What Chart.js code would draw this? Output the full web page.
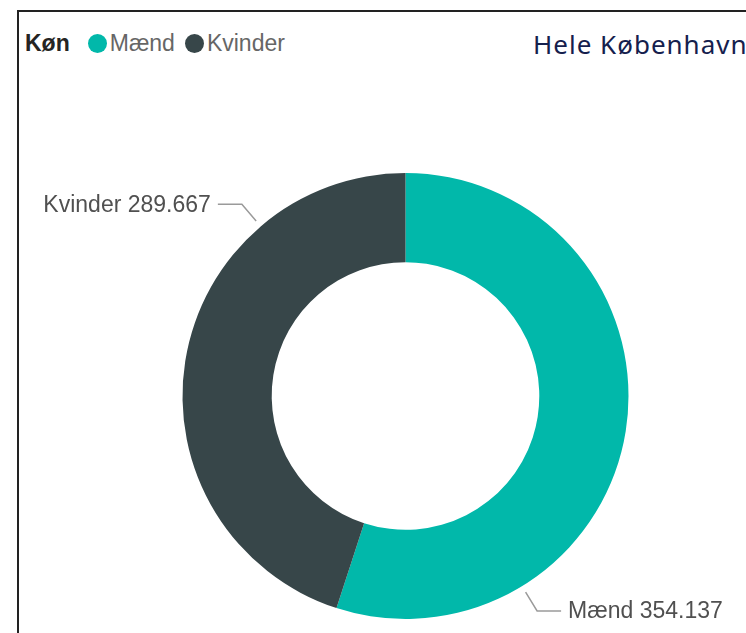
<!DOCTYPE html>
<html>
<head>
<meta charset="utf-8">
<script src="https://cdn.jsdelivr.net/npm/chart.js@4"></script>
<style>
  body { margin: 0; width: 746px; height: 633px; overflow: hidden; background: #fff; position: relative; }
  #frame { position: absolute; left: 17px; top: 10px; width: 800px; height: 700px; border-left: 2px solid #222; border-top: 2px solid #222; }
  #chart { position: absolute; left: 0; top: 0; }
  #legend { position: absolute; left: 25px; top: 30px; height: 26px; display: flex; align-items: center; font-family: 'Liberation Sans', Arial, sans-serif; font-size: 23px; color: #666; white-space: nowrap; }
  #legend .ttl { font-weight: bold; color: #252423; margin-right: 18px; }
  #legend .dot { width: 19px; height: 19px; border-radius: 50%; display: inline-block; margin-right: 3px; }
  #legend .item { display: flex; align-items: center; margin-right: 10px; }
  #title { position: absolute; left: 533px; top: 26px; font-family: 'Noto Sans', sans-serif; font-size: 26px; letter-spacing: 1px; color: #15204d; white-space: nowrap; }
</style>
</head>
<body>
<div id="frame"></div>
<div id="legend"></div>
<div id="title"></div>
<canvas id="chart" width="746" height="633"></canvas>
<script>
'use strict'

const categories = ['Mænd', 'Kvinder'];
const values = [354137, 289667];
const colors = ['#01B8AA', '#374649'];
const legendTitle = 'Køn';
const chartTitle = 'Hele København';

function formatNumber(n){
    return String(n).replace(/\B(?=(\d{3})+(?!\d))/g, '.');
}

function buildLegend(){
    const legend = document.getElementById('legend');
    let ttl = document.createElement('span');
    ttl.className = 'ttl';
    ttl.textContent = legendTitle;
    legend.appendChild(ttl);
    for (let i = 0; i < categories.length; i++){
        let item = document.createElement('span');
        item.className = 'item';
        let dot = document.createElement('span');
        dot.className = 'dot';
        dot.style.background = colors[i];
        item.appendChild(dot);
        item.appendChild(document.createTextNode(categories[i]));
        legend.appendChild(item);
    }
}

// leader lines + data labels, placed from each arc's own geometry
const leaderLabels = {
    id: 'leaderLabels',
    afterDatasetsDraw(chart){
        const ctx = chart.ctx;
        const arcs = chart.getDatasetMeta(0).data;
        ctx.save();
        ctx.font = '23px "Liberation Sans", Arial, sans-serif';
        ctx.textBaseline = 'middle';
        for (let i = 0; i < arcs.length; i++){
            const arc = arcs[i];
            const a = arc.startAngle + 0.75 * (arc.endAngle - arc.startAngle);
            const r = arc.outerRadius + 7;
            const x0 = arc.x + Math.cos(a) * r;
            const y0 = arc.y + Math.sin(a) * r;
            const x1 = x0 + Math.cos(a) * 22;
            const y1 = y0 + Math.sin(a) * 22;
            const side = Math.cos(a) >= 0 ? 1 : -1;
            const x2 = x1 + side * 24;
            ctx.strokeStyle = '#9a9a9a';
            ctx.lineWidth = 1.5;
            ctx.beginPath();
            ctx.moveTo(x0, y0);
            ctx.lineTo(x1, y1);
            ctx.lineTo(x2, y1);
            ctx.stroke();
            ctx.fillStyle = '#505050';
            ctx.textAlign = side > 0 ? 'left' : 'right';
            ctx.fillText(categories[i] + ' ' + formatNumber(values[i]), x2 + side * 7, y1 + 1);
        }
        ctx.restore();
    }
};

function generateConfig(){
    const data = {
        labels: categories,
        datasets: [{
            data: values,
            backgroundColor: colors,
            borderWidth: 0
        }]
    };

    const config = {
        type: 'doughnut',
        data: data,
        options: {
            responsive: false,
            animation: false,
            cutout: '60%',
            layout: {
                padding: { left: 182, right: 117, top: 173, bottom: 14 }
            },
            plugins: {
                legend: { display: false },
                tooltip: { enabled: false }
            }
        },
        plugins: [leaderLabels]
    };

    return config;
}

function init(){
    document.getElementById('title').textContent = chartTitle;
    buildLegend();
    new Chart(document.getElementById('chart'), generateConfig());
}

init();
</script>
</body>
</html>
